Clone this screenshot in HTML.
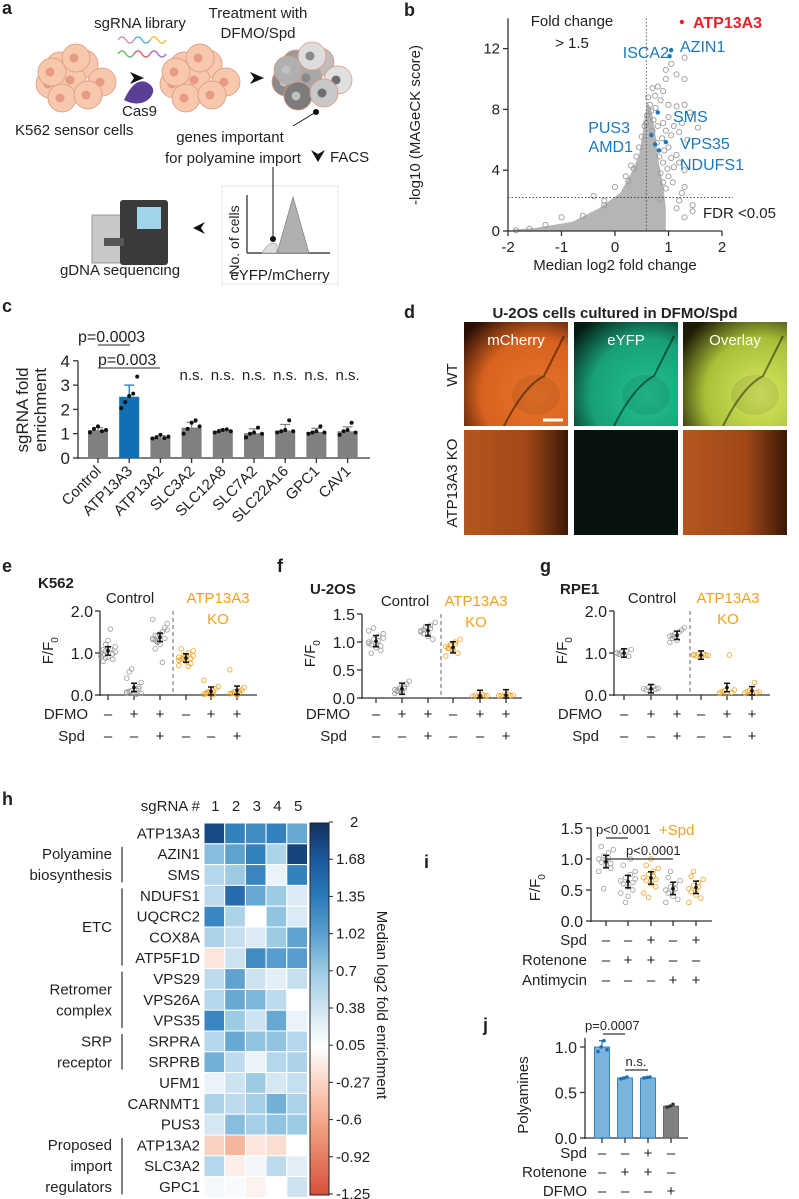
<!DOCTYPE html>
<html><head><meta charset="utf-8"><style>
html,body{margin:0;padding:0;background:#fff}
svg{display:block;font-family:"Liberation Sans",Arial,sans-serif}
</style></head><body>
<svg id="fig" width="799" height="1199" viewBox="0 0 799 1199" xmlns="http://www.w3.org/2000/svg">
<defs>
<linearGradient id="cbar" x1="0" y1="1" x2="0" y2="0">
<stop offset="0" stop-color="#d6503a"/><stop offset="0.2" stop-color="#f4a98a"/><stop offset="0.4" stop-color="#ffffff"/><stop offset="0.5" stop-color="#d0e5f2"/><stop offset="0.6" stop-color="#9ccbe4"/><stop offset="0.7" stop-color="#5aa0cf"/><stop offset="0.8" stop-color="#2c7bba"/><stop offset="0.9" stop-color="#1a5a9e"/><stop offset="1" stop-color="#14305e"/>
</linearGradient>
<radialGradient id="mch" cx="0.7" cy="0.7" r="0.9"><stop offset="0" stop-color="#e8742a"/><stop offset="0.6" stop-color="#d8621e"/><stop offset="1" stop-color="#2a0e04"/></radialGradient>
<radialGradient id="yfp" cx="0.7" cy="0.7" r="0.9"><stop offset="0" stop-color="#22c090"/><stop offset="0.6" stop-color="#18a078"/><stop offset="1" stop-color="#031a12"/></radialGradient>
<radialGradient id="ovl" cx="0.75" cy="0.7" r="0.9"><stop offset="0" stop-color="#d8e860"/><stop offset="0.6" stop-color="#a8c038"/><stop offset="1" stop-color="#1e1a04"/></radialGradient>
<linearGradient id="ko" x1="0" y1="0" x2="1" y2="0"><stop offset="0" stop-color="#b4561e"/><stop offset="0.6" stop-color="#a04818"/><stop offset="1" stop-color="#3a1806"/></linearGradient>
</defs>
<g id="root"></g>
</svg>
<script>
// ---------- data ----------
const volcanoX = [-0.4,-0.2,-1.0,-1.3,-1.6,-1.85,0.7,0.65,0.6,0.55,0.45,0.3,0.2,0.0,-0.2,-0.6,1.3,1.05,0.95,0.95,1.15,1.3,0.8,0.9,0.85,1.0,1.15,1.3,1.4,1.55,1.25,1.1,1.2,1.05,1.35,1.0,1.15,1.2,1.3,1.1,1.0,1.3,1.25,1.2,1.15,1.45,1.45,1.3,0.95,0.9,0.85,0.9,0.95,1.0,0.75,1.05,0.9,0.85,0.72,0.8,0.88,0.78,0.7,0.83,0.92,0.68,0.76,0.98,1.08,0.62,0.58,0.5,0.4,0.35,0.25];
const volcanoY = [2.3,2.0,0.9,0.4,0.15,0.05,9.4,8.3,7.6,6.9,5.5,4.3,3.6,2.9,1.7,1.0,11.4,11.0,10.6,10.0,10.3,10.0,9.5,9.2,8.6,8.3,8.2,8.3,7.8,6.8,7.1,6.9,6.5,6.3,6.0,5.5,5.0,4.5,4.0,4.2,3.6,2.9,2.5,2.0,1.5,1.7,1.3,0.9,2.8,3.2,2.1,7.1,6.6,7.5,8.9,4.8,4.5,3.8,7.3,6.9,6.1,5.8,6.6,4.9,5.3,7.9,8.1,4.1,3.2,8.8,7.1,6.2,4.9,4.1,3.3];
const cloudX = [-1.9,-1.5,-0.8,-0.3,0.1,0.3,0.45,0.52,0.6,0.68,0.75,0.82,0.9,0.95,0.95,0.6,-0.5,-1.9];
const cloudY = [0.1,0.2,0.6,1.5,2.5,3.8,5.0,6.5,8.5,8.0,6.5,4.5,3.0,1.5,0.0,0.0,0.0,0.0];
const hitNames = ["ATP13A3","AZIN1","ISCA2","SMS","PUS3","AMD1","VPS35","NDUFS1"];
const hitX = [1.25,1.05,1.02,0.8,0.68,0.75,0.95,0.82];
const hitY = [13.75,11.9,11.5,7.8,6.3,5.7,5.85,5.3];

const cCats = ["Control","ATP13A3","ATP13A2","SLC3A2","SLC12A8","SLC7A2","SLC22A16","GPC1","CAV1"];
const cVals = [1.15,2.52,0.85,1.25,1.12,1.02,1.13,1.07,1.10];
const cErr = [0.1,0.48,0.07,0.22,0.06,0.18,0.25,0.15,0.18];
const cPts = [[1.05,1.2,1.3,1.1,1.15],[2.05,2.3,2.55,2.65,3.35],[0.8,0.85,0.95,0.82,0.88],[1.0,1.2,1.45,1.55,1.3],[1.05,1.1,1.15,1.18,1.1],[0.85,1.0,1.05,1.25,1.0],[1.05,1.1,1.15,1.55,1.1],[1.0,1.05,1.1,1.3,1.05],[0.95,1.1,1.15,1.45,1.05]];

const eGroups = [[1.0,0.95,1.05,0.9,1.1,0.85,1.15,1.0,0.8,1.2,1.3,1.57,0.98,1.02,0.92,1.08,0.88,1.12],[0.05,0.08,0.1,0.03,0.12,0.2,0.3,0.4,0.55,0.62,0.06,0.02,0.15,0.04,0.07,0.09],[1.35,1.3,1.4,1.2,1.5,1.6,1.7,1.8,1.1,1.25,1.45,0.78,1.35,1.55,1.32,1.42,1.28],[0.9,0.85,0.95,0.8,1.0,0.75,1.05,0.7,1.1,0.88,0.92,0.68,0.87,0.93,0.83],[0.02,0.05,0.08,0.0,0.1,0.15,0.2,0.35,0.03,0.06,0.04,0.01],[0.03,0.05,0.08,0.0,0.1,0.12,0.18,0.6,0.04,0.07,0.02,0.06]];
const fGroups = [[1.0,0.95,1.05,0.9,1.1,0.85,1.15,1.2,0.8,1.25,0.98,1.02,0.93,1.07,0.97],[0.15,0.12,0.18,0.1,0.2,0.25,0.3,0.08,0.14,0.16,0.13,0.17],[1.2,1.15,1.25,1.1,1.3,1.05,1.35,1.18,1.22,1.28,1.16,1.24],[0.92,0.88,0.95,0.85,1.0,0.8,1.05,0.75,0.9,0.93,0.87,0.96],[0.03,0.05,0.02,0.04,0.06,0.03,0.04],[0.04,0.05,0.03,0.06,0.07,0.04,0.05]];
const gGroups = [[1.0,0.97,1.03,0.95,1.05,0.92,1.08,1.0,0.98,1.02],[0.15,0.12,0.18,0.1,0.2,0.14,0.16],[1.4,1.35,1.45,1.3,1.5,1.55,1.6,1.25,1.42,1.38],[0.95,0.93,0.97,0.92,0.98,0.95,0.94,0.96],[0.05,0.08,0.1,0.03,0.95,0.06,0.12,0.04],[0.05,0.08,0.1,0.04,0.3,0.06,0.07]];
const dfmoRow = ["–","+","+","–","+","+"];
const spdRow = ["–","–","+","–","–","+"];

const hRows = ["ATP13A3","AZIN1","SMS","NDUFS1","UQCRC2","COX8A","ATP5F1D","VPS29","VPS26A","VPS35","SRPRA","SRPRB","UFM1","CARNMT1","PUS3","ATP13A2","SLC3A2","GPC1"];
const hVals = [[1.8,1.3,1.2,1.3,0.95],[0.8,1.0,1.3,0.6,1.85],[0.55,0.7,1.25,0.2,1.3],[0.5,1.5,0.95,0.7,0.3],[1.25,0.6,0.05,0.75,0.3],[0.6,0.45,0.3,0.7,1.0],[-0.15,0.4,1.2,1.05,1.05],[0.5,1.0,0.4,0.25,0.45],[0.55,0.95,0.85,0.5,0.05],[1.25,0.7,0.4,0.95,0.2],[0.55,0.95,0.75,0.75,0.55],[0.9,0.5,0.2,0.55,0.6],[0.2,0.4,0.7,0.35,0.45],[0.6,0.5,0.65,0.9,0.6],[0.35,0.8,0.65,0.75,0.7],[-0.3,-0.5,-0.15,-0.2,0.05],[0.55,-0.08,0.15,0.5,0.25],[0.12,0.1,-0.05,0.05,0.4]];
const cbTicks = ["2","1.68","1.35","1.02","0.7","0.38","0.05","-0.27","-0.6","-0.92","-1.25"];

const iGroups = [[1.0,0.95,1.05,0.9,1.1,0.85,1.15,0.8,1.2,0.52,0.98,1.02,0.93],[0.65,0.6,0.7,0.55,0.75,0.5,0.8,0.45,0.9,0.3,0.4,1.0,0.62,0.68],[0.7,0.65,0.75,0.6,0.8,0.55,0.85,0.45,0.9,0.38,1.0,0.72,0.67],[0.5,0.45,0.55,0.4,0.6,0.35,0.65,0.3,0.7,0.8,0.48,0.52],[0.52,0.47,0.57,0.42,0.62,0.37,0.67,0.3,0.72,0.8,0.5,0.55]];
const iColors = ["gray","gray","orange","gray","orange"];
const jVals = [1.0,0.66,0.66,0.35];
const jPts = [[0.95,1.0,1.07,0.97],[0.65,0.66,0.67],[0.66,0.665,0.67],[0.34,0.35,0.37]];

// ---------- helpers ----------
const NS="http://www.w3.org/2000/svg";
const root=document.getElementById('root');
function mk(tag,attrs,parent){const e=document.createElementNS(NS,tag);for(const k in attrs)e.setAttribute(k,attrs[k]);(parent||root).appendChild(e);return e;}
function tx(x,y,s,size,opts,parent){opts=opts||{};const e=mk('text',{x:x,y:y,'font-size':size,fill:opts.fill||'#231f20','text-anchor':opts.anchor||'start','font-weight':opts.bold?'bold':'normal'},parent);if(opts.rot!==undefined)e.setAttribute('transform','rotate('+opts.rot+' '+x+' '+y+')');e.textContent=s;return e;}
function line(x1,y1,x2,y2,st,w,parent){return mk('line',{x1:x1,y1:y1,x2:x2,y2:y2,stroke:st||'#231f20','stroke-width':w||1.5},parent);}
const GR='#9a9a9a', OR='#f0a020', BLUE='#1a78bd';

// ---------- panel letters ----------
[["a",2,14],["b",404,16],["c",2,312],["d",404,318],["e",2,572],["f",277,572],["g",540,572],["h",2,805],["i",424,868],["j",483,1031]].forEach(p=>{
 const t=tx(p[1],p[2],p[0],18,{bold:true});
 
 
});

// ---------- panel a ----------
const gA=mk('g',{});


const cellOff=[[-16,-14],[8,-16],[-26,4],[26,2],[-4,0],[-14,18],[12,15],[0,-22],[-24,-8]];
function cluster(cx,cy,fills,nuc,name){
 const g=mk('g',{},gA);
 
 
 cellOff.forEach((o,i)=>{mk('circle',{cx:cx+o[0],cy:cy+o[1],r:14,fill:fills[i%fills.length],stroke:'#d89a80','stroke-width':0.8},g);mk('circle',{cx:cx+o[0]-2,cy:cy+o[1],r:4.5,fill:nuc[i%nuc.length]},g);});
}
cluster(76,80,['#f7c8ab'],['#e59c83'],'k562-cells');
cluster(200,80,['#f7c8ab'],['#e59c83'],'edited-cells');
cluster(312,78,['#9a9a9a','#bdbdbd','#8a8a8a','#e0e0e0','#a8a8a8','#7c7c7c','#c8c8c8','#dddddd','#b0b0b0'],['#6e6e6e','#8a8a8a','#c0c0c0'],'treated-cells');
tx(140,28,"sgRNA library",15,{anchor:'middle'},gA);
tx(258,18,"Treatment with",15,{anchor:'middle'},gA);
tx(258,38,"DFMO/Spd",15,{anchor:'middle'},gA);
['#e08ac0','#5ab0e0','#f0c040','#70b870','#e06060','#a070d0'].forEach((c,i)=>{mk('path',{d:'M'+(118+(i%3)*16)+' '+(40+Math.floor(i/3)*14)+' q4 -6 8 0 t8 0',stroke:c,fill:'none','stroke-width':1.5},gA);});
mk('path',{d:'M130 72 l14 6 l-14 6 l4 -6z',fill:'#111'},gA);
mk('path',{d:'M124 100 q10 -22 22 -18 q12 6 4 16 q-10 10 -26 2z',fill:'#5b3f96'},gA);
tx(122,116,"Cas9",15,{},gA);
tx(15,135,"K562 sensor cells",15,{},gA);
mk('path',{d:'M250 72 l14 6 l-14 6 l4 -6z',fill:'#111'},gA);
mk('circle',{cx:316,cy:112,r:3,fill:'#111'},gA);
line(316,112,293,126,'#111',1,gA);
tx(230,142,"genes important",15,{anchor:'middle'},gA);
tx(165,163,"for polyamine import",15,{},gA);
mk('path',{d:'M311 150 l7 12 l7 -12 l-7 4z',fill:'#111'},gA);
tx(330,162,"FACS",15,{},gA);
mk('rect',{x:222,y:186,width:116,height:98,fill:'#fff',stroke:'#e6e6e6'},gA);
line(247,195,247,253,'#222',1.2,gA);line(247,253,330,253,'#222',1.2,gA);
mk('path',{d:'M262 253 q8 -14 15 -8 l0 8z',fill:'#ddd',stroke:'#999','stroke-width':0.6},gA);
mk('path',{d:'M277 253 l16 -56 l16 56z',fill:'#b0b0b0',stroke:'#777','stroke-width':0.6},gA);
line(273,167,273,238,'#111',1,gA);mk('circle',{cx:273,cy:239,r:3,fill:'#111'},gA);
tx(239,240,"No. of cells",14,{anchor:'middle',rot:-90},gA);
tx(280,280,"eYFP/mCherry",15,{anchor:'middle'},gA);
mk('path',{d:'M205 222 l-12 6 l12 6 l-4 -6z',fill:'#111'},gA);
mk('rect',{x:92,y:215,width:40,height:48,fill:'#c8c8c8',stroke:'#999'},gA);
mk('rect',{x:120,y:200,width:48,height:65,rx:3,fill:'#3a3a3a'},gA);
mk('rect',{x:137,y:207,width:24,height:22,fill:'#9fd4ea'},gA);
mk('rect',{x:104,y:238,width:20,height:8,fill:'#555'},gA);
tx(120,275,"gDNA sequencing",15,{anchor:'middle'},gA);

// ---------- panel b (volcano) ----------
const gB=mk('g',{});


const bx=v=>615+v*53.5, by=v=>231-v*15.2;
const cl=mk('path',{d:cloudX.map((v,i)=>(i?'L':'M')+bx(v)+' '+by(cloudY[i])).join(' ')+'Z',fill:'#a8a8a8',opacity:0.85},gB);


volcanoX.forEach((v,i)=>{
 const c=mk('circle',{cx:bx(v),cy:by(volcanoY[i]),r:2.6,fill:'none',stroke:GR,'stroke-width':0.9},gB);
 
 
});
line(bx(0.585),by(14),bx(0.585),by(0),'#333',0.8,gB).setAttribute('stroke-dasharray','1.5 2');
line(bx(-2),by(2.2),bx(2.2),by(2.2),'#333',0.8,gB).setAttribute('stroke-dasharray','1.5 2');
line(508,by(14),508,232,'#333',1.3,gB);line(507,231,722,231,'#333',1.3,gB);
[0,4,8,12].forEach(t=>{line(503,by(t),508,by(t),'#333',1.3,gB);tx(500,by(t)+5,String(t),15,{anchor:'end'},gB);});
[-2,-1,0,1,2].forEach(t=>{line(bx(t),231,bx(t),236,'#333',1.3,gB);tx(bx(t),252,String(t),15,{anchor:'middle'},gB);});
tx(420,125,"-log10 (MAGeCK score)",15,{anchor:'middle',rot:-90},gB);
tx(615,270,"Median log2 fold change",15,{anchor:'middle'},gB);
tx(572,26,"Fold change",15,{anchor:'middle'},gB);
tx(572,48,"> 1.5",15,{anchor:'middle'},gB);
tx(703,218,"FDR <0.05",15,{},gB);
const labPos=[[693,28,'start'],[680,52,'start'],[669,58,'end'],[673,122,'start'],[630,133,'end'],[633,152,'end'],[680,149,'start'],[680,170,'start']];
hitNames.forEach((n,i)=>{
 const c=mk('circle',{cx:bx(hitX[i]),cy:by(hitY[i]),r:2.2,fill:i?BLUE:'#e8202a'},gB);
 
 
 const t=tx(labPos[i][0],labPos[i][1],n,16,{anchor:labPos[i][2],fill:i?BLUE:'#e8202a',bold:i===0},gB);
 
 
});

// ---------- panel c ----------
const gC=mk('g',{});


const cy=v=>458-v*24.3, cx=i=>98+i*31.2;
line(78,cy(4),78,459,'#333',1.3,gC);line(77,458,370,458,'#333',1.3,gC);
[0,1,2,3,4].forEach(t=>{line(73,cy(t),78,cy(t),'#333',1.3,gC);tx(70,cy(t)+6,String(t),17,{anchor:'end'},gC);});
cCats.forEach((n,i)=>{
 const col=i===1?'#1170b4':'#808080';
 const r=mk('rect',{x:cx(i)-10,y:cy(cVals[i]),width:20,height:cVals[i]*24.3,fill:col},gC);
 
 
 line(cx(i),cy(cVals[i]),cx(i),cy(cVals[i]+cErr[i]),col,1.2,gC);line(cx(i)-5,cy(cVals[i]+cErr[i]),cx(i)+5,cy(cVals[i]+cErr[i]),col,1.2,gC);
 cPts[i].forEach((p,k)=>mk('circle',{cx:cx(i)-8+k*4,cy:cy(p),r:2,fill:'#111'},gC));
 line(cx(i),458,cx(i),463,'#333',1.3,gC);
 const t=tx(cx(i)+4,472,n,15,{anchor:'end',rot:-45},gC);
 
 
});
tx(28,410,"sgRNA fold",17,{anchor:'middle',rot:-90},gC);
tx(46,410,"enrichment",17,{anchor:'middle',rot:-90},gC);
tx(78,342,"p=0.0003",16,{},gC);line(98,345,130,345,'#555',1.3,gC);
tx(98,365,"p=0.003",16,{},gC);line(98,368,160,368,'#555',1.3,gC);
for(let i=3;i<9;i++)tx(cx(i),380,"n.s.",15,{anchor:'middle'},gC);

// ---------- panel d ----------
const gD=mk('g',{});


tx(615,318,"U-2OS cells cultured in DFMO/Spd",15,{anchor:'middle',bold:true},gD);
const cols=[464,574,683], fills1=['url(#mch)','url(#yfp)','url(#ovl)'], fills2=['url(#ko)','#08120e','url(#ko)'], names=['mCherry','eYFP','Overlay'];
cols.forEach((x,i)=>{
 const a=mk('rect',{x:x,y:322,width:104,height:104,fill:fills1[i]},gD);
 
 
 mk('path',{d:'M'+(x+40)+' 426 q20 -40 40 -50 q10 -20 20 -40',stroke:'rgba(0,0,0,0.45)',fill:'none','stroke-width':2},gD);
 mk('ellipse',{cx:x+72,cy:395,rx:24,ry:20,fill:'rgba(0,0,0,0.08)'},gD);
 const b=mk('rect',{x:x,y:430,width:104,height:105,fill:fills2[i]},gD);
 
 
 tx(x+52,345,names[i],15,{anchor:'middle',fill:'#fff'},gD);
});
line(543,420,563,420,'#fff',3,gD);
tx(457,375,"WT",15,{anchor:'middle',rot:-90},gD);
tx(457,483,"ATP13A3 KO",15,{anchor:'middle',rot:-90},gD);

// ---------- swarm panels e,f,g ----------
function swarm(parent,groups,xs,yf,colors){
 groups.forEach((g,gi)=>{
  g.forEach((v,k)=>{const off=((k%7)-3)*2.4;
   const c=mk('circle',{cx:xs[gi]+off,cy:yf(v),r:2.3,fill:'none',stroke:colors[gi]==='orange'?OR:GR,'stroke-width':0.8},parent);
   
   });
  const m=g.reduce((a,b)=>a+b,0)/g.length;
  const e=0.1;
  line(xs[gi],yf(m+e),xs[gi],yf(Math.max(0,m-e)),'#111',1.5,parent);
  line(xs[gi]-3,yf(m+e),xs[gi]+3,yf(m+e),'#111',1.5,parent);
  line(xs[gi]-3,yf(Math.max(0,m-e)),xs[gi]+3,yf(Math.max(0,m-e)),'#111',1.5,parent);
  mk('circle',{cx:xs[gi],cy:yf(m),r:1.8,fill:'#111'},parent);
 });
}
function fPanel(name,title,tpos,axX,y0,pxu,ticks,xs,groups,dash,ctx,kox,axEnd){
 const g=mk('g',{});
 
 
 const yf=v=>y0-v*pxu;
 tx(tpos[0],tpos[1],title,15,{bold:true},g);
 const top=yf(ticks[ticks.length-1]);
 line(axX,top,axX,y0+1,'#333',1.3,g);line(axX-1,y0,axEnd,y0,'#333',1.3,g);
 ticks.forEach(t=>{line(axX-5,yf(t),axX,yf(t),'#333',1.3,g);tx(axX-7,yf(t)+6,t.toFixed(1),16,{anchor:'end'},g);});
 xs.forEach(x=>line(x,y0,x,y0+5,'#333',1.3,g));
 line(dash,top,dash,y0,'#999',1.5,g).setAttribute('stroke-dasharray','4 3');
 swarm(g,groups,xs,yf,['gray','gray','gray','orange','orange','orange']);
 tx(ctx,top-8,"Control",15,{anchor:'middle'},g);
 tx(kox,top-8,"ATP13A3",15,{anchor:'middle',fill:OR},g);
 tx(kox,top+13,"KO",15,{anchor:'middle',fill:OR},g);
 tx(axX-47,(top+y0)/2,"F/F",15,{anchor:'middle',rot:-90},g);
 tx(axX-42,(top+y0)/2-13,"0",10,{anchor:'middle',rot:-90},g);
 tx(axX-12,719,"DFMO",15,{anchor:'end'},g);
 tx(axX-15,741,"Spd",15,{anchor:'end'},g);
 xs.forEach((x,i)=>{tx(x,719,dfmoRow[i],15,{anchor:'middle'},g);tx(x,741,spdRow[i],15,{anchor:'middle'},g);});
}
fPanel('k562-swarm-plot','K562',[38,588],100,695,42,[0,1,2],[108,134,160,186,211,237],eGroups,173,130,218,257);
fPanel('u2os-swarm-plot','U-2OS',[310,594],362,698,56,[0,0.5,1,1.5],[376,402,428,453,480,506],fGroups,441,405,476,522);
fPanel('rpe1-swarm-plot','RPE1',[560,594],614,695,42,[0,1,2],[624,651,677,701,727,752],gGroups,690,652,728,770);

// ---------- panel h heatmap ----------
const gH=mk('g',{});


const stops=[[-1.25,[214,80,58]],[-0.6,[244,169,138]],[0.05,[255,255,255]],[0.38,[208,229,242]],[0.7,[156,203,228]],[1.02,[90,160,207]],[1.35,[44,123,186]],[1.68,[26,90,158]],[2,[20,48,94]]];
function col(v){v=Math.max(-1.25,Math.min(2,v));for(let i=0;i<stops.length-1;i++){const a=stops[i],b=stops[i+1];if(v<=b[0]){const t=(v-a[0])/(b[0]-a[0]);return 'rgb('+a[1].map((c,k)=>Math.round(c+(b[1][k]-c)*t)).join(',')+')';}}return 'rgb(20,48,94)';}
const hx0=204,cw=20.7,hy0=823,rh=20.8;
tx(200,811,"sgRNA #",15,{anchor:'end'},gH);
for(let c=0;c<5;c++)tx(hx0+cw*c+cw/2+1,811,String(c+1),15,{anchor:'middle'},gH);
hRows.forEach((n,r)=>{
 tx(200,hy0+rh*r+rh/2+5,n,15,{anchor:'end'},gH);
 hVals[r].forEach((v,c)=>{
  const cell=mk('rect',{x:hx0+cw*c,y:hy0+rh*r,width:cw,height:rh,fill:col(v),stroke:'#fff','stroke-width':1},gH);
  
  
 });
});
[[1,2,["Polyamine","biosynthesis"]],[3,6,["ETC"]],[7,9,["Retromer","complex"]],[10,11,["SRP","receptor"]],[15,17,["Proposed","import","regulators"]]].forEach(gp=>{
 const y1=hy0+rh*gp[0]+3,y2=hy0+rh*(gp[1]+1)-3;
 line(122,y1,122,y2,'#555',1.5,gH);
 const mid=(y1+y2)/2, n=gp[2].length;
 gp[2].forEach((s,k)=>tx(112,mid+5+(k-(n-1)/2)*21,s,15,{anchor:'end'},gH));
});
const cb=mk('rect',{x:310,y:823,width:19,height:372,fill:'url(#cbar)',stroke:'#222','stroke-width':1},gH);


cbTicks.forEach((t,i)=>{const y=822+i*37.2;line(329,y,333,y,'#222',1,gH);tx(i===0?350:336,y+5,t,15,{},gH);});
tx(377,1005,"Median log2 fold enrichment",15,{anchor:'middle',rot:90},gH);

// ---------- panel i ----------
const gI=mk('g',{});


const iy=v=>921-v*62, ixs=[606,628,651,673,696];
line(591,iy(1.5),591,922,'#333',1.3,gI);line(590,921,712,921,'#333',1.3,gI);
[0,0.5,1,1.5].forEach(t=>{line(586,iy(t),591,iy(t),'#333',1.3,gI);tx(583,iy(t)+6,t.toFixed(1),16,{anchor:'end'},gI);});
ixs.forEach(x=>line(x,921,x,926,'#333',1.3,gI));
swarm(gI,iGroups,ixs,iy,iColors);
tx(540,890,"F/F",15,{anchor:'middle',rot:-90},gI);tx(545,877,"0",10,{anchor:'middle',rot:-90},gI);
tx(596,834,"p<0.0001",13,{},gI);tx(659,835,"+Spd",15,{fill:OR},gI);
line(606,838,628,838,'#333',1.2,gI);
tx(626,855,"p<0.0001",13,{},gI);line(606,859,673,859,'#333',1.2,gI);
const iRows=[["Spd",["–","–","+","–","+"]],["Rotenone",["–","+","+","–","–"]],["Antimycin",["–","–","–","+","+"]]];
iRows.forEach((r,k)=>{const y=945+k*20;tx(587,y,r[0],15,{anchor:'end'},gI);r[1].forEach((s,i)=>tx(ixs[i],y,s,15,{anchor:'middle'},gI));});

// ---------- panel j ----------
const gJ=mk('g',{});


const jy=v=>1138-v*91, jxs=[602,625,648,671];
line(585,jy(1.1),585,1139,'#333',1.3,gJ);line(584,1138,688,1138,'#333',1.3,gJ);
[0,0.5,1].forEach(t=>{line(580,jy(t),585,jy(t),'#333',1.3,gJ);tx(577,jy(t)+6,t.toFixed(1),16,{anchor:'end'},gJ);});
jVals.forEach((v,i)=>{
 const last=i===3;
 const r=mk('rect',{x:jxs[i]-7.5,y:jy(v),width:15,height:v*91,fill:last?'#808080':'#7ab4dc',stroke:last?'#555':'#1a6fb5','stroke-width':0.8},gJ);
 
 
 jPts[i].forEach((p,k)=>mk('circle',{cx:jxs[i]-4+k*3,cy:jy(p),r:1.8,fill:last?'#333':'#1a6fb5'},gJ));
 line(jxs[i],1138,jxs[i],1143,'#333',1.3,gJ);
});
line(602,jy(1.0),602,jy(1.07),'#1a6fb5',1.2,gJ);line(599,jy(1.07),605,jy(1.07),'#1a6fb5',1.2,gJ);
tx(585,1030,"p=0.0007",13,{},gJ);line(603,1034,625,1034,'#333',1.2,gJ);
tx(636,1066,"n.s.",13,{anchor:'middle'},gJ);line(625,1070,648,1070,'#333',1.2,gJ);
tx(528,1095,"Polyamines",15,{anchor:'middle',rot:-90},gJ);
const jRows=[["Spd",["–","–","+","–"]],["Rotenone",["–","+","+","–"]],["DFMO",["–","–","–","+"]]];
jRows.forEach((r,k)=>{const y=1158+k*19;tx(587,y,r[0],15,{anchor:'end'},gJ);r[1].forEach((s,i)=>tx(jxs[i],y,s,15,{anchor:'middle'},gJ));});
</script>
</body></html>
